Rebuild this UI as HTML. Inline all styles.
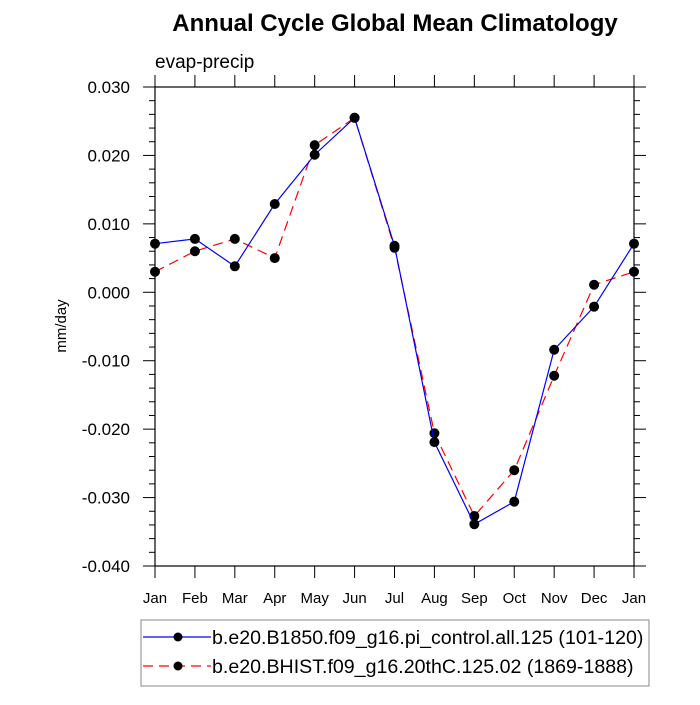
<!DOCTYPE html>
<html><head><meta charset="utf-8"><style>
body{margin:0;background:#fff;}
svg text{font-family:"Liberation Sans",sans-serif;fill:#000;}
</style></head><body>
<svg id="chart" width="700" height="700"></svg>
<script>
const months=["Jan","Feb","Mar","Apr","May","Jun","Jul","Aug","Sep","Oct","Nov","Dec","Jan"];
const controlVals=[0.0071,0.0078,0.0038,0.0129,0.0201,0.0255,0.0068,-0.0219,-0.0339,-0.0306,-0.0084,-0.0021,0.0071];
const histVals=[0.0030,0.0060,0.0078,0.0050,0.0215,0.0255,0.0065,-0.0206,-0.0327,-0.0260,-0.0122,0.0011,0.0030];
const yTicks=[0.030,0.020,0.010,0.000,-0.010,-0.020,-0.030,-0.040];
const yTickLabels=["0.030","0.020","0.010","0.000","-0.010","-0.020","-0.030","-0.040"];

const NS="http://www.w3.org/2000/svg";
const svg=document.getElementById('chart');
const L=155,R=634,T=87,B=566,ymin=-0.04,ymax=0.03;
function xs(i){return L+(R-L)*i/(months.length-1);}
function ys(v){return B-(v-ymin)/(ymax-ymin)*(B-T);}
function el(tag,attrs,parent){const e=document.createElementNS(NS,tag);for(const k in attrs)e.setAttribute(k,attrs[k]);(parent||svg).appendChild(e);return e;}

let t=el('text',{x:395,y:31,'text-anchor':'middle','font-size':24,'font-weight':'bold'});t.textContent="Annual Cycle Global Mean Climatology";


t=el('text',{x:155,y:68,'font-size':19});t.textContent="evap-precip";


t=el('text',{x:0,y:0,'text-anchor':'middle','font-size':15,transform:'translate(66,326) rotate(-90)'});t.textContent="mm/day";



const frame=el('rect',{x:L,y:T,width:R-L,height:B-T,fill:'none',stroke:'#000','stroke-width':1.2});



for(let v=-0.04;v<=0.0301;v+=0.002){
  const y=ys(v);const major=Math.abs(Math.round(v*1000)%10)===0;const len=major?12:6;
  el('line',{x1:L-len,x2:L,y1:y,y2:y,stroke:'#000','stroke-width':1});
  el('line',{x1:R,x2:R+len,y1:y,y2:y,stroke:'#000','stroke-width':1});
}
yTicks.forEach((v,i)=>{
  const tx=el('text',{x:130,y:ys(v)+6,'text-anchor':'end','font-size':17});tx.textContent=yTickLabels[i];
  
  
});
months.forEach((m,i)=>{
  const x=xs(i);
  el('line',{x1:x,x2:x,y1:B,y2:B+12,stroke:'#000','stroke-width':1});
  el('line',{x1:x,x2:x,y1:T-12,y2:T,stroke:'#000','stroke-width':1});
  const tx=el('text',{x:x,y:603,'text-anchor':'middle','font-size':15});tx.textContent=m;
  
  
});

function series(vals,color,dash,name){
  const p=el('polyline',{points:vals.map((v,i)=>xs(i)+','+ys(v)).join(' '),fill:'none',stroke:color,'stroke-width':1.2,'stroke-dasharray':dash});
  
  
  vals.forEach((v,i)=>{
    const c=el('circle',{cx:xs(i),cy:ys(v),r:5,fill:'#000'});
    
    
  });
}
series(histVals,'#f00','10 6','hist');
series(controlVals,'#00f','none','control');

const lg=el('g',{});


el('rect',{x:141,y:620,width:508,height:66,fill:'#fff',stroke:'#888','stroke-width':1},lg);
el('line',{x1:143,x2:211,y1:637,y2:637,stroke:'#00f','stroke-width':1.2},lg);
el('circle',{cx:178,cy:637,r:4.5,fill:'#000'},lg);
el('line',{x1:143,x2:211,y1:666,y2:666,stroke:'#f00','stroke-width':1.2,'stroke-dasharray':'10 6'},lg);
el('circle',{cx:178,cy:666,r:4.5,fill:'#000'},lg);
let e1=el('text',{x:212,y:644,'font-size':19.6},lg);e1.textContent="b.e20.B1850.f09_g16.pi_control.all.125 (101-120)";


let e2=el('text',{x:212,y:673,'font-size':19.6},lg);e2.textContent="b.e20.BHIST.f09_g16.20thC.125.02 (1869-1888)";


</script>
</body></html>
